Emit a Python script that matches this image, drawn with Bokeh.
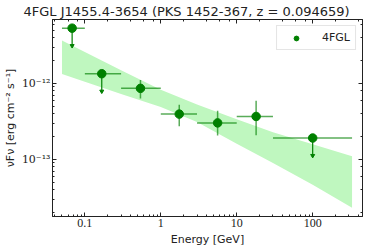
import numpy as np
from bokeh.plotting import figure
from bokeh.models import (LogAxis, LogTicker, CustomJSTickFormatter, Legend,
                          LegendItem, Range1d)
from bokeh.embed import file_html
from bokeh.resources import INLINE

# ---- data ----
bin_lo = [0.05, 0.1, 0.3, 1.0, 3.0, 10.0, 30.0]
bin_hi = [0.1, 0.3, 1.0, 3.0, 10.0, 30.0, 330.0]
e_center = [0.068, 0.167, 0.54, 1.75, 5.6, 18.0, 100.0]
flux = [5.33e-12, 1.34e-12, 8.6e-13, 3.94e-13, 3.02e-13, 3.67e-13, 1.91e-13]
flux_high = [5.33e-12, 1.34e-12, 1.11e-12, 5.22e-13, 4.36e-13, 5.89e-13, 1.91e-13]
flux_low = [3.13e-12, 7.87e-13, 6.31e-13, 2.72e-13, 2.06e-13, 2.07e-13, 1.12e-13]
is_ul = [True, True, False, False, False, False, True]

band_e = [0.05, 0.1, 0.3, 1.0, 3.0, 10.0, 30.0, 100.0, 330.0]
band_hi = [3.66e-12, 2.59e-12, 1.49e-12, 8.27e-13, 5.27e-13, 3.36e-13, 2.27e-13, 1.58e-13, 1.10e-13]
band_lo = [1.33e-12, 1.05e-12, 7.23e-13, 4.89e-13, 3.11e-13, 1.61e-13, 8.95e-14, 4.62e-14, 2.30e-14]

title_text = "4FGL J1455.4-3654 (PKS 1452-367, z = 0.094659)"
x_label = "Energy [GeV]"
y_label = "\u03bdF\u03bd [erg cm\u207b\u00b2 s\u207b\u00b9]"
legend_label = "4FGL"

x_range = (0.0375, 453.0)
y_range = (1.77e-14, 6.93e-12)

GREEN = "#008000"

p = figure(width=374, height=249, x_axis_type="log", y_axis_type="log",
           x_range=Range1d(*x_range), y_range=Range1d(*y_range),
           output_backend="svg", toolbar_location=None,
           min_border_left=52, min_border_right=12, min_border_top=17,
           min_border_bottom=33)
p.background_fill_color = "white"
p.border_fill_color = "white"
p.grid.visible = False
p.outline_line_color = "#222222"
p.outline_line_width = 1

p.title.text = title_text
p.title.text_font = "DejaVu Sans"
p.title.text_font_size = "13px"
p.title.text_font_style = "normal"
p.title.text_color = "#222222"
p.title.align = "left"
p.title.standoff = 2
p.title.offset = -29

# band
p.varea(x=band_e, y1=band_lo, y2=band_hi, fill_color="#bff7bf", fill_alpha=1.0)

# error bars
p.segment(x0=bin_lo, x1=bin_hi, y0=flux, y1=flux, line_color=GREEN,
          line_alpha=0.65, line_width=1.5)
det_x = [e for e, u in zip(e_center, is_ul) if not u]
det_lo = [l for l, u in zip(flux_low, is_ul) if not u]
det_hi = [h for h, u in zip(flux_high, is_ul) if not u]
p.segment(x0=det_x, x1=det_x, y0=det_lo, y1=det_hi, line_color=GREEN,
          line_alpha=0.65, line_width=1.5)
ul_x = [e for e, u in zip(e_center, is_ul) if u]
ul_top = [h for h, u in zip(flux_high, is_ul) if u]
ul_end = [l for l, u in zip(flux_low, is_ul) if u]
p.segment(x0=ul_x, x1=ul_x, y0=ul_end, y1=ul_top, line_color=GREEN,
          line_alpha=1.0, line_width=1.2)
p.scatter(x=ul_x, y=ul_end, marker="inverted_triangle", size=4,
          fill_color=GREEN, line_color=GREEN)

pts = p.scatter(x=e_center, y=flux, size=8.5, fill_color=GREEN, line_color=GREEN)

legend = Legend(items=[LegendItem(label=legend_label, renderers=[pts])],
                location="top_right", margin=6, padding=5,
                glyph_width=28, glyph_height=12, label_height=12,
                label_standoff=12, spacing=0,
                label_text_font="DejaVu Sans", label_text_font_size="11px",
                label_text_color="#222222",
                border_line_color="#cccccc", border_line_width=1,
                background_fill_color="white", background_fill_alpha=0.9)
p.add_layout(legend)

xfmt = CustomJSTickFormatter(code="""
const e = Math.round(Math.log10(tick));
return e < 0 ? tick.toFixed(-e) : String(Math.round(tick));
""")
yfmt = CustomJSTickFormatter(code="""
const sup = {"-":"\u207b","0":"\u2070","1":"\u00b9","2":"\u00b2","3":"\u00b3","4":"\u2074","5":"\u2075","6":"\u2076","7":"\u2077","8":"\u2078","9":"\u2079"};
const e = Math.round(Math.log10(tick));
return "10" + String(e).split("").map(c => sup[c]).join("");
""")
blank = CustomJSTickFormatter(code='return "";')

def style_axis(ax, show_labels):
    ax.major_tick_in = 4
    ax.major_tick_out = 0
    ax.minor_tick_in = 2
    ax.minor_tick_out = 0
    ax.axis_line_color = "#222222"
    ax.major_tick_line_color = "#222222"
    ax.minor_tick_line_color = "#222222"
    if not show_labels:
        ax.formatter = blank
        ax.major_label_text_font_size = "2px"
        ax.major_label_standoff = 0
    else:
        ax.major_label_text_font = "Liberation Serif"
        ax.major_label_text_font_size = "12px"
        ax.major_label_text_color = "#222222"

xa = p.xaxis[0]
style_axis(xa, True)
xa.formatter = xfmt
xa.major_label_standoff = 2
xa.axis_label = x_label
xa.axis_label_text_font = "DejaVu Sans"
xa.axis_label_text_font_size = "11px"
xa.axis_label_text_font_style = "normal"
xa.axis_label_text_color = "#222222"
xa.axis_label_standoff = 3

ya = p.yaxis[0]
style_axis(ya, True)
ya.formatter = yfmt
ya.major_label_text_font = "DejaVu Serif"
ya.major_label_text_font_size = "11px"
ya.major_label_standoff = 2
ya.axis_label = y_label
ya.axis_label_text_font = "DejaVu Sans"
ya.axis_label_text_font_size = "11px"
ya.axis_label_text_font_style = "normal"
ya.axis_label_text_color = "#222222"
ya.axis_label_standoff = 2

ra = LogAxis()
style_axis(ra, False)
p.add_layout(ra, "right")
ta = LogAxis()
style_axis(ta, False)
p.add_layout(ta, "above")

open("out.html", "w").write(file_html(p, INLINE))
